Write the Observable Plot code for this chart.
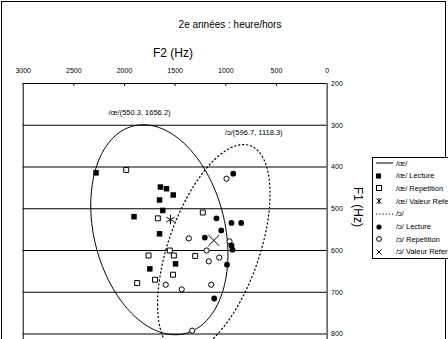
<!DOCTYPE html>
<html><head><meta charset="utf-8">
<script src="https://cdn.jsdelivr.net/npm/d3@7"></script>
<script src="https://cdn.jsdelivr.net/npm/@observablehq/plot@0.6"></script>
<style>
body{margin:0;background:#fff;}
#wrap{position:relative;width:448px;height:339px;overflow:hidden;font-family:"Liberation Sans",Arial,sans-serif;color:#000;}
#wrap > svg{position:absolute;left:0;top:0;}
.abs{position:absolute;white-space:nowrap;line-height:1;}
#border{position:absolute;left:1px;top:1px;width:443px;height:400px;border:1px solid #000;}
#legend{position:absolute;left:372px;top:157px;width:120px;height:100px;border:1px solid #000;background:#fff;}
#legend .row{position:absolute;left:0;height:12px;display:flex;align-items:center;font-size:7.5px;white-space:nowrap;}
#legend .row svg{position:static;flex:none;}
</style></head><body><div id="wrap"><div id="border"></div></div>
<script>
// ---- data (F2 = second formant Hz, F1 = first formant Hz) ----
const title = "2e années : heure/hors";
const xLabel = "F2 (Hz)";
const yLabel = "F1 (Hz)";
const xTicks = [3000, 2500, 2000, 1500, 1000, 500, 0];
const yTicks = [200, 300, 400, 500, 600, 700, 800];

const oeLectureF2 = [2281, 1645, 1585, 1519, 1654, 1622, 1906, 1654, 1750, 1496];
const oeLectureF1 = [414, 448, 452, 467, 479, 504, 519, 560, 644, 632];
const oeRepetitionF2 = [1983, 1671, 1227, 1553, 1763, 1513, 1302, 1521, 1699, 1875];
const oeRepetitionF1 = [407, 523, 509, 600, 612, 612, 613, 658, 670, 678];
const oeRefF2 = [1546];
const oeRefF1 = [526];

const oLectureF2 = [927, 1092, 944, 848, 1045, 1207, 944, 934, 988, 1114];
const oLectureF1 = [416, 523, 534, 534, 552, 569, 588, 598, 634, 715];
const oRepetitionF2 = [993, 1365, 963, 1190, 1065, 1168, 1593, 1435, 1144, 1332];
const oRepetitionF1 = [428, 571, 578, 600, 617, 626, 682, 693, 682, 792];
const oRefF2 = [1118];
const oRefF1 = [576];

// ellipse parameters: centre, half-extents (Hz) and F2/F1 correlation
const ellipseNames = ["/œ/", "/ɔ/"];
const ellipseF1 = [550.3, 596.7];
const ellipseF2 = [1656.2, 1118.3];
const ellipseRx = [677, 555];
const ellipseRy = [251.5, 250.5];
const ellipseR = [-0.233, 0.528];
const ellipseLabelF2 = [1852, 724];
const ellipseLabelF1 = [269, 318];

const legendLabels = ["/œ/", "/œ/ Lecture", "/œ/ Repetition", "/œ/ Valeur Reference",
                      "/ɔ/", "/ɔ/ Lecture", "/ɔ/ Repetition", "/ɔ/ Valeur Reference"];

// ---- build ----
const pts = (xs, ys) => xs.map((x, i) => ({F2: x, F1: ys[i]}));
function ellipse(i) {
  const s = Math.sqrt(1 - ellipseR[i] * ellipseR[i]);
  return d3.range(0, 181).map(k => {
    const t = k * Math.PI / 90;
    return {
      F2: ellipseF2[i] + ellipseRx[i] * Math.cos(t),
      F1: ellipseF1[i] + ellipseRy[i] * (ellipseR[i] * Math.cos(t) + s * Math.sin(t))
    };
  });
}
const labels = ellipseNames.map((n, i) => ({
  F2: ellipseLabelF2[i], F1: ellipseLabelF1[i],
  text: `${n}(${ellipseF1[i]}, ${ellipseF2[i]})`
}));

const plotTop = 83, plotLeft = 22.7, plotRight = 326.6, H = 339;
const yPerHz = 0.4175;
const chart = Plot.plot({
  width: 448, height: H,
  marginLeft: plotLeft, marginRight: 448 - plotRight, marginTop: plotTop, marginBottom: 0,
  style: {fontFamily: "Liberation Sans, Arial, sans-serif", background: "transparent"},
  x: {domain: [3000, 0]},
  y: {domain: [200, 200 + (H - plotTop) / yPerHz], reverse: true},
  marks: [
    Plot.ruleY(yTicks, {stroke: "#000", strokeWidth: 1}),
    Plot.ruleX([3000, 0], {stroke: "#000", strokeWidth: 1}),
    Plot.ruleX(xTicks.slice(1, -1), {y1: 200, y2: 207, stroke: "#000"}),
    Plot.axisX({anchor: "top", ticks: xTicks, tickSize: 0, tickPadding: 11, fontSize: 7, label: null, tickFormat: d => String(d)}),
    Plot.axisY({anchor: "right", ticks: yTicks, tickSize: 0, tickPadding: 4, fontSize: 7, label: null, tickFormat: d => String(d)}),
    Plot.line(ellipse(0), {x: "F2", y: "F1", stroke: "#000", strokeWidth: 1, curve: "linear", clip: true}),
    Plot.line(ellipse(1), {x: "F2", y: "F1", stroke: "#000", strokeWidth: 1.2, strokeDasharray: "1.2,2.8", curve: "linear", clip: true}),
    Plot.text(labels, {x: "F2", y: "F1", text: "text", fontSize: 7.5, fill: "#000"}),
    Plot.dot(pts(oeRepetitionF2, oeRepetitionF1), {x: "F2", y: "F1", symbol: "square", r: 2.8, fill: "#fff", stroke: "#000", strokeWidth: 1}),
    Plot.dot(pts(oRepetitionF2, oRepetitionF1), {x: "F2", y: "F1", symbol: "circle", r: 2.6, fill: "#fff", stroke: "#000", strokeWidth: 1}),
    Plot.dot(pts(oeLectureF2, oeLectureF1), {x: "F2", y: "F1", symbol: "square", r: 3.1, fill: "#000", stroke: "none"}),
    Plot.dot(pts(oLectureF2, oLectureF1), {x: "F2", y: "F1", symbol: "circle", r: 2.9, fill: "#000", stroke: "none"}),
    Plot.dot(pts(oeRefF2, oeRefF1), {x: "F2", y: "F1", symbol: "asterisk", r: 4.5, stroke: "#000", strokeWidth: 1}),
    Plot.dot(pts(oRefF2, oRefF1), {x: "F2", y: "F1", symbol: "times", r: 5, stroke: "#000", strokeWidth: 1})
  ]
});
const wrap = document.getElementById("wrap");
wrap.appendChild(chart);

function addText(txt, x, y, size, rot) {
  const d = document.createElement("div");
  d.className = "abs";
  d.textContent = txt;
  d.style.fontSize = size + "px";
  d.style.left = x + "px";
  d.style.top = y + "px";
  d.style.transform = `translate(-50%,-50%)` + (rot ? ` rotate(${rot}deg)` : "");
  wrap.appendChild(d);
}
addText(title, 230, 25, 10);
addText(xLabel, 173, 53, 12);
addText(yLabel, 358, 207, 12, 90);

// legend
const legend = document.createElement("div");
legend.id = "legend";
const sym = [
  `<line x1="3" x2="20" y1="6" y2="6" stroke="#000"/>`,
  `<rect x="3" y="3.5" width="5" height="5" fill="#000"/>`,
  `<rect x="3.5" y="3.5" width="5" height="5" fill="#fff" stroke="#000"/>`,
  `<path d="M3.5,3.5L8.5,8.5M8.5,3.5L3.5,8.5M6,3V9" stroke="#000"/>`,
  `<line x1="3" x2="20" y1="6" y2="6" stroke="#000" stroke-dasharray="1.2,2"/>`,
  `<circle cx="6" cy="6" r="2.6" fill="#000"/>`,
  `<circle cx="6" cy="6" r="2.4" fill="#fff" stroke="#000"/>`,
  `<path d="M3.5,3.5L8.5,8.5M8.5,3.5L3.5,8.5" stroke="#000"/>`
];
legendLabels.forEach((lab, i) => {
  const r = document.createElement("div");
  r.className = "row";
  r.style.top = (-1 + i * 12.7) + "px";
  r.innerHTML = `<svg width="23" height="12">${sym[i]}</svg><span>${lab}</span>`;
  legend.appendChild(r);
});
wrap.appendChild(legend);
</script></body></html>
